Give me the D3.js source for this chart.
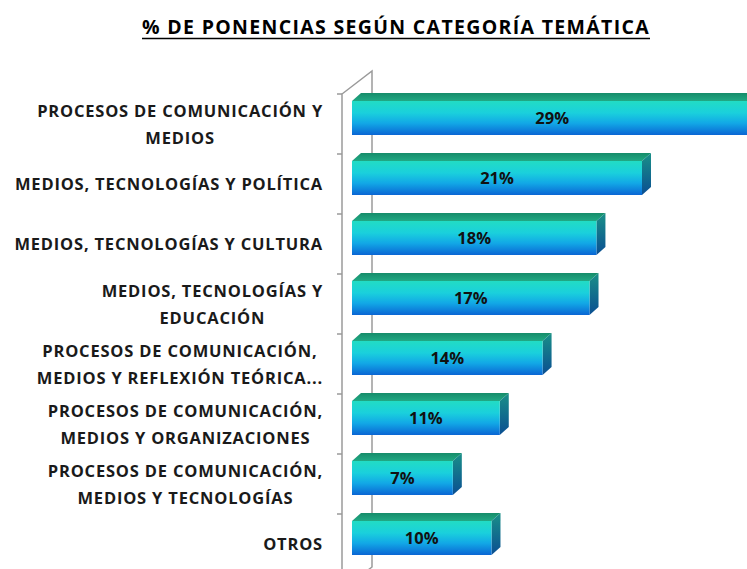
<!DOCTYPE html>
<html>
<head>
<meta charset="utf-8">
<script src="https://cdn.jsdelivr.net/npm/d3@7"></script>
<style>
  body { margin: 0; background: #fff; }
  svg { display: block; font-family: "Open Sans", Lato, sans-serif; }
</style>
</head>
<body>
<div id="wrapper"></div>
<script>
// data
const categories = [
  "PROCESOS DE COMUNICACIÓN Y|MEDIOS",
  "MEDIOS, TECNOLOGÍAS Y POLÍTICA",
  "MEDIOS, TECNOLOGÍAS Y CULTURA",
  "MEDIOS, TECNOLOGÍAS Y|EDUCACIÓN",
  "PROCESOS DE COMUNICACIÓN,|MEDIOS Y REFLEXIÓN TEÓRICA...",
  "PROCESOS DE COMUNICACIÓN,|MEDIOS Y ORGANIZACIONES",
  "PROCESOS DE COMUNICACIÓN,|MEDIOS Y TECNOLOGÍAS",
  "OTROS",
];
const values = [29, 21, 17.7, 17.2, 13.8, 10.7, 7.3, 10.1];
const title = "% DE PONENCIAS SEGÚN CATEGORÍA TEMÁTICA";

function drawChart() {
  const dimensions = { width: 747, height: 569 };
  const depth = { dx: 9, dy: -8 };

  const wrapper = d3
    .select("#wrapper")
    .append("svg")
    .attr("width", dimensions.width)
    .attr("height", dimensions.height);

  const xScale = d3.scaleLinear().domain([0, 21]).range([352, 642]);
  const yScale = d3.scaleBand().domain(categories).range([94, 574]);

  // gradients
  const defs = wrapper.append("defs");
  const front = defs.append("linearGradient").attr("id", "front")
    .attr("x1", 0).attr("y1", 0).attr("x2", 0).attr("y2", 1);
  [["0%", "#22dcc4"], ["35%", "#1ad0dc"], ["65%", "#12a8e6"], ["100%", "#0a66d4"]]
    .forEach(([o, c]) => front.append("stop").attr("offset", o).attr("stop-color", c));
  const side = defs.append("linearGradient").attr("id", "side")
    .attr("x1", 0).attr("y1", 0).attr("x2", 0).attr("y2", 1);
  [["0%", "#1a9088"], ["100%", "#0a4e92"]]
    .forEach(([o, c]) => side.append("stop").attr("offset", o).attr("stop-color", c));
  const top = defs.append("linearGradient").attr("id", "top")
    .attr("x1", 0).attr("y1", 0).attr("x2", 0).attr("y2", 1);
  [["0%", "#158c6a"], ["100%", "#21a884"]]
    .forEach(([o, c]) => top.append("stop").attr("offset", o).attr("stop-color", c));

  // fit letter spacing so a text reaches the measured width
  function fitSpacing(sel, target) {
    const str = sel.text();
    const w = sel.node().getComputedTextLength();
    return (target - w) / str.length;
  }

  // title
  const titleText = wrapper
    .append("text")
    .attr("x", 396)
    .attr("y", 34)
    .attr("text-anchor", "middle")
    .style("font-size", "19.5px")
    .style("font-weight", "bold")
    .attr("fill", "#000")
    .text(title);
  titleText.style("letter-spacing", `${fitSpacing(titleText, 508)}px`);
  wrapper
    .append("line")
    .attr("x1", 396 - 254)
    .attr("x2", 396 + 254)
    .attr("y1", 38.5)
    .attr("y2", 38.5)
    .attr("stroke", "#000")
    .attr("stroke-width", 1.4);

  // axis wall
  const x0 = xScale(0) - 10;
  const yTop = yScale.range()[0];
  const yBot = yScale.range()[1] + 16;
  const axisG = wrapper.append("g")
    .attr("stroke", "#9a9a9a")
    .attr("stroke-width", 1.5)
    .attr("fill", "none");
  const back = 30, backUp = -23;
  axisG.append("path").attr("d",
    `M${x0},${yBot} L${x0},${yTop} L${x0 + back},${yTop + backUp} L${x0 + back},${yBot + backUp} L${x0},${yBot}`);
  axisG.selectAll(".tick")
    .data(d3.range(categories.length + 1))
    .join("line")
    .attr("x1", x0 - 5)
    .attr("x2", x0)
    .attr("y1", (i) => yTop + i * yScale.step())
    .attr("y2", (i) => yTop + i * yScale.step());

  // bars
  const barH = 34, barOff = 7;
  const bars = wrapper.selectAll(".bar")
    .data(categories)
    .join("g")
    .attr("class", "bar");

  bars.append("path")
    .attr("fill", "url(#top)")
    .attr("d", (d, i) => {
      const y = yScale(d) + barOff, xa = xScale(0), xb = xScale(values[i]);
      return `M${xa},${y} L${xa + depth.dx},${y + depth.dy} L${xb + depth.dx},${y + depth.dy} L${xb},${y}Z`;
    });
  bars.append("path")
    .attr("fill", "url(#side)")
    .attr("d", (d, i) => {
      const y = yScale(d) + barOff, xb = xScale(values[i]);
      return `M${xb},${y} L${xb + depth.dx},${y + depth.dy} L${xb + depth.dx},${y + barH + depth.dy} L${xb},${y + barH}Z`;
    });
  bars.append("rect")
    .attr("fill", "url(#front)")
    .attr("x", xScale(0))
    .attr("y", (d) => yScale(d) + barOff)
    .attr("width", (d, i) => xScale(values[i]) - xScale(0))
    .attr("height", barH);

  const fmt = d3.format(".0f");
  bars.append("text")
    .attr("x", (d, i) => (xScale(0) + xScale(values[i])) / 2)
    .attr("y", (d) => yScale(d) + barOff + barH / 2 + 6)
    .attr("text-anchor", "middle")
    .style("font-size", "16.5px")
    .style("font-weight", "bold")
    .attr("fill", "#111")
    .text((d, i) => `${fmt(values[i])}%`);

  // category labels, multi-line centred in a right-aligned block
  const labelRight = 323, lineH = 27;
  const labelSize = "16.5px";
  const probe = wrapper.append("text")
    .style("font-size", labelSize)
    .style("font-weight", "bold")
    .text("MEDIOS, TECNOLOGÍAS Y POLÍTICA");
  const spacing = fitSpacing(probe, 308);
  probe.remove();

  categories.forEach((c) => {
    const lines = c.split("|");
    const g = wrapper.append("g");
    const cy = yScale(c) + yScale.bandwidth() / 2;
    const texts = lines.map((l, j) =>
      g.append("text")
        .attr("y", cy - ((lines.length - 1) * lineH) / 2 + j * lineH + 6)
        .attr("text-anchor", "middle")
        .style("font-size", labelSize)
        .style("font-weight", "bold")
        .style("letter-spacing", `${spacing}px`)
        .attr("fill", "#1a1a1a")
        .text(l)
    );
    const maxW = d3.max(texts, (t) => t.node().getComputedTextLength());
    texts.forEach((t) => t.attr("x", labelRight - maxW / 2));
  });
}

drawChart();
</script>
</body>
</html>
